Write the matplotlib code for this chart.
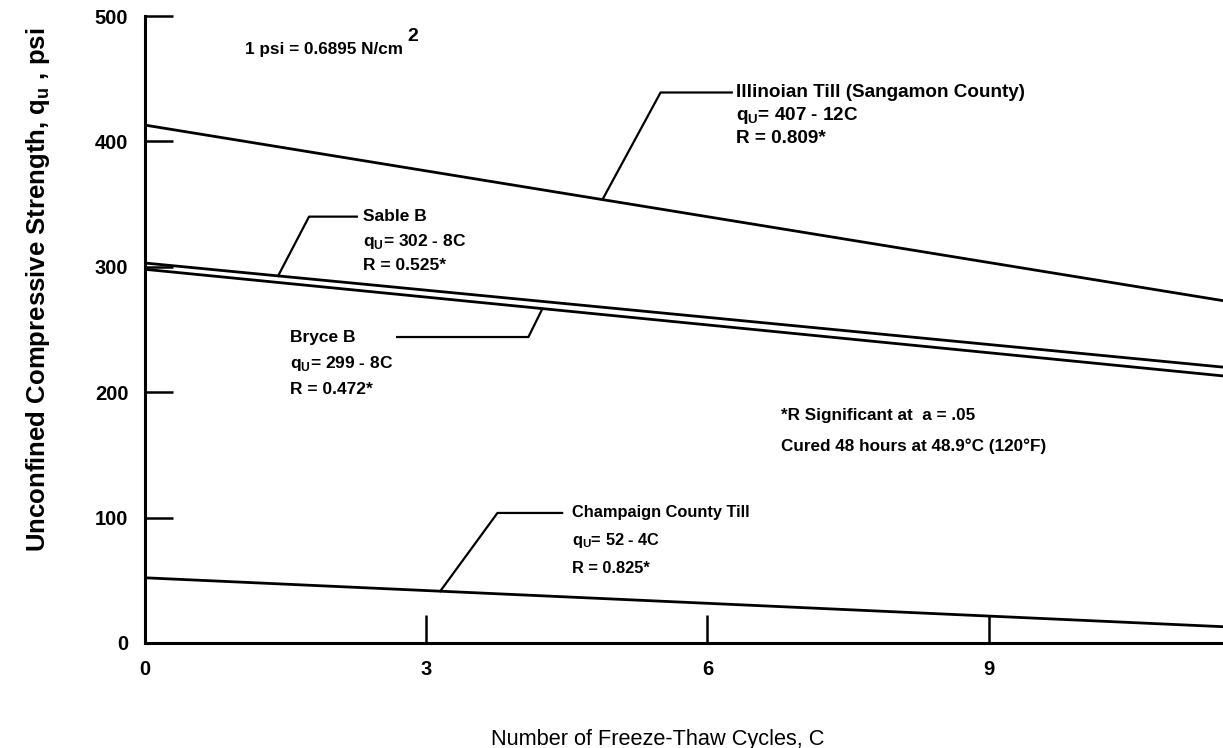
import numpy as np
import matplotlib
matplotlib.use("Agg")
import matplotlib.pyplot as plt

# ── data (fitted lines, q_u in psi vs cycles C) ──
cycles = [0, 11.5]
illinoian = [413, 273]
sable_b = [303, 220]
bryce_b = [298, 213]
champaign = [52, 13]

x_ticks = [0, 3, 6, 9]
y_ticks = [0, 100, 200, 300, 400, 500]

NARROW = ["Liberation Sans Narrow", "Liberation Sans", "DejaVu Sans"]
WIDE = ["Liberation Sans", "DejaVu Sans"]

fig = plt.figure(figsize=(12.23, 7.48), dpi=100)
ax = fig.add_axes([145 / 1223, 105 / 748, 1078 / 1223, 627 / 748])
ax.set_xlim(0, 11.5)
ax.set_ylim(0, 500)

for s in ("top", "right"):
    ax.spines[s].set_visible(False)
for s in ("left", "bottom"):
    ax.spines[s].set_linewidth(2.2)

ax.set_xticks(x_ticks)
ax.set_yticks(y_ticks)
ax.tick_params(direction="in", length=20, width=1.8, pad=12)
for lab in ax.get_xticklabels() + ax.get_yticklabels():
    lab.set_family(NARROW)
    lab.set_fontweight("bold")
    lab.set_fontsize(14.5)

for ys in (illinoian, sable_b, bryce_b, champaign):
    ax.plot(cycles, ys, color="black", lw=2.0, solid_capstyle="butt", clip_on=False)


def leader(series, c_on, kink, c_end):
    q_on = np.interp(c_on, cycles, series)
    ax.plot([c_on, kink[0], c_end], [q_on, kink[1], kink[1]],
            color="black", lw=1.6)


def label(c, q0, lines, dy=21, size=12.5):
    for i, t in enumerate(lines):
        ax.text(c, q0 - i * dy, t, family=NARROW, fontweight="bold",
                fontsize=size, va="center", ha="left")


qu = r"q$_{\mathregular{U}}$= "

# Illinoian Till
leader(illinoian, 4.88, (5.50, 439), 6.26)
label(6.30, 439, ["Illinoian Till (Sangamon County)", qu + "407 - 12C", "R = 0.809*"],
      dy=18.5, size=13.6)

# Sable B
leader(sable_b, 1.42, (1.75, 340), 2.26)
label(2.33, 340, ["Sable B", qu + "302 - 8C", "R = 0.525*"], dy=19.5, size=12.5)

# Bryce B
q_b = np.interp(4.24, cycles, bryce_b)
ax.plot([2.69, 4.09, 4.24], [244, 244, q_b], color="black", lw=1.6)
label(1.55, 244, ["Bryce B", qu + "299 - 8C", "R = 0.472*"], dy=21, size=12.5)

# Champaign County Till
leader(champaign, 3.15, (3.76, 103.7), 4.45)
label(4.56, 103.7, ["Champaign County Till", qu + "52 - 4C", "R = 0.825*"], dy=22, size=11.8)

# notes
ax.text(6.78, 181.8, "*R Significant at  a = .05", family=NARROW,
        fontweight="bold", fontsize=12.3, va="center")
ax.text(6.78, 157, "Cured 48 hours at 48.9°C (120°F)", family=NARROW,
        fontweight="bold", fontsize=12.3, va="center")
ax.text(1.07, 473, "1 psi = 0.6895 N/cm", family=NARROW,
        fontweight="bold", fontsize=12.3, va="center")
ax.text(2.80, 484, "2", family=NARROW, fontweight="bold", fontsize=14, va="center")

# axis titles
fig.text(0.538, 1 - 739 / 748, "Number of Freeze-Thaw Cycles, C", family=NARROW,
         fontsize=15.7, ha="center", va="center")
fig.text(0.031, 1 - 290 / 748, r"Unconfined Compressive Strength, q$_{\mathregular{u}}$ , psi",
         family=WIDE, fontweight="bold", fontsize=18.5, rotation=90,
         ha="center", va="center")

fig.savefig("out.png", dpi=100)
